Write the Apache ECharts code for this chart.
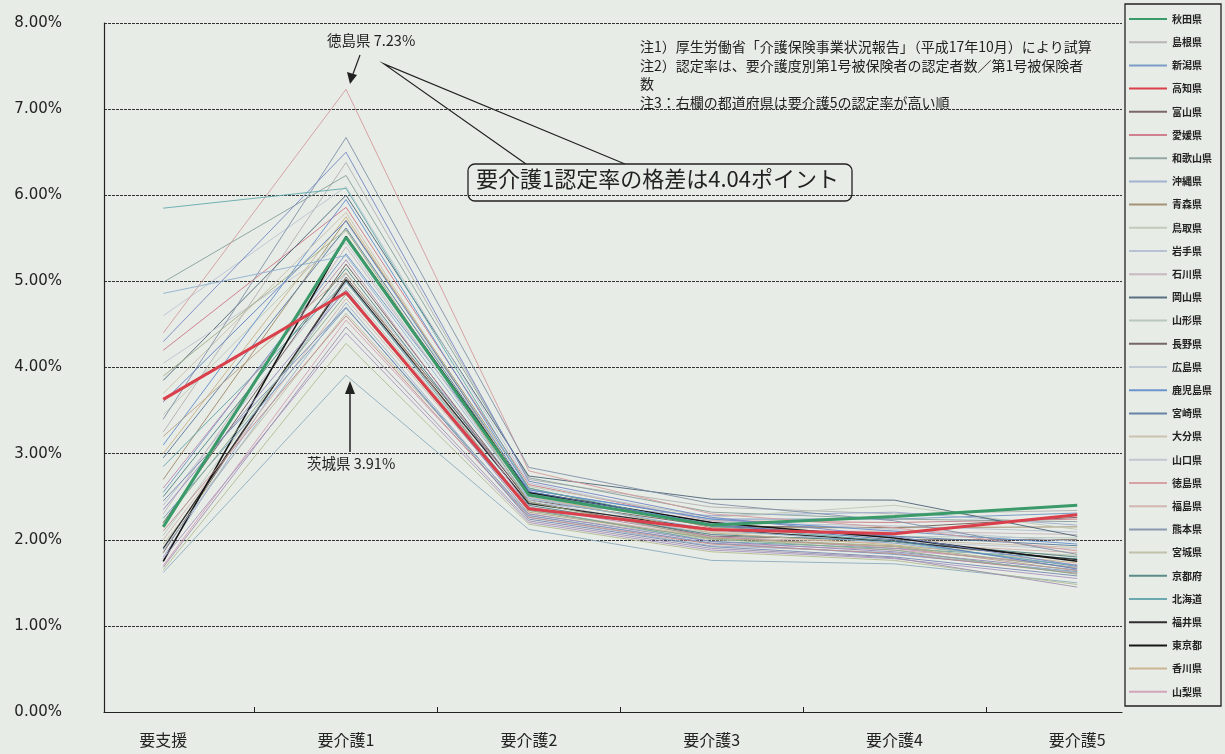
<!DOCTYPE html>
<html>
<head>
<meta charset="utf-8">
<script src="https://cdn.jsdelivr.net/npm/echarts@6/dist/echarts.min.js"></script>
<style>
  html, body { margin: 0; padding: 0; background: #e8ece6; }
  #main { width: 1225px; height: 754px; }
</style>
</head>
<body>
<div id="main"></div>
<script>
// categories (x axis)
const categories = ['要支援', '要介護1', '要介護2', '要介護3', '要介護4', '要介護5'];

// y axis ticks (percent)
const yTicks = [0, 1, 2, 3, 4, 5, 6, 7, 8];

// prefectures, sorted by 要介護5 rate; first 30 are shown in the legend
const prefectures = [
  '秋田県', '島根県', '新潟県', '高知県', '富山県', '愛媛県', '和歌山県', '沖縄県', '青森県', '鳥取県',
  '岩手県', '石川県', '岡山県', '山形県', '長野県', '広島県', '鹿児島県', '宮崎県', '大分県', '山口県',
  '徳島県', '福島県', '熊本県', '宮城県', '京都府', '北海道', '福井県', '東京都', '香川県', '山梨県',
  '佐賀県', '長崎県', '大阪府', '三重県', '兵庫県', '福岡県', '岐阜県', '奈良県', '愛知県', '滋賀県',
  '静岡県', '群馬県', '神奈川県', '栃木県', '茨城県', '千葉県', '埼玉県'
];
const legendCount = 30;

// 認定率 (%) per level, one value per prefecture in the order above
const shien = [
  2.15, 3.25, 2.55, 3.63, 1.85, 4.20, 4.99, 1.80, 2.70, 3.45,
  2.40, 2.30, 3.85, 2.05, 2.20, 4.60, 3.10, 2.95, 3.70, 4.05,
  4.40, 2.00, 3.40, 1.95, 2.50, 2.85, 1.90, 1.75, 3.00, 1.70,
  4.86, 4.30, 5.85, 2.60, 3.90, 3.60, 2.35, 3.20, 2.25, 1.88,
  2.10, 2.20, 2.45, 1.78, 1.62, 1.65, 1.68
];
const kaigo1 = [
  5.51, 6.38, 5.32, 4.87, 5.05, 5.86, 6.23, 4.99, 5.71, 5.59,
  5.09, 5.40, 6.00, 4.93, 5.20, 6.10, 5.95, 5.62, 5.80, 5.45,
  7.23, 4.80, 6.67, 4.63, 5.15, 5.00, 5.02, 5.52, 5.75, 4.55,
  5.30, 6.50, 6.08, 5.25, 5.60, 5.70, 4.90, 5.10, 4.69, 4.75,
  4.60, 4.85, 4.70, 4.40, 3.91, 4.28, 4.47
];
const kaigo2 = [
  2.52, 2.70, 2.58, 2.36, 2.46, 2.64, 2.72, 2.42, 2.60, 2.62,
  2.48, 2.50, 2.74, 2.38, 2.44, 2.66, 2.58, 2.54, 2.50, 2.46,
  2.80, 2.34, 2.84, 2.30, 2.40, 2.36, 2.42, 2.55, 2.52, 2.28,
  2.48, 2.68, 2.60, 2.38, 2.44, 2.56, 2.30, 2.32, 2.28, 2.26,
  2.26, 2.34, 2.24, 2.20, 2.12, 2.18, 2.22
];
const kaigo3 = [
  2.17, 2.38, 2.24, 2.12, 2.16, 2.22, 2.32, 2.28, 2.14, 2.26,
  2.20, 2.10, 2.47, 2.08, 2.04, 2.22, 2.24, 2.16, 2.10, 2.06,
  2.30, 2.03, 2.42, 2.00, 2.06, 1.98, 2.12, 2.20, 2.08, 1.96,
  2.12, 2.26, 2.16, 2.04, 2.02, 2.18, 1.98, 2.02, 1.96, 1.93,
  1.95, 2.01, 1.92, 1.88, 1.76, 1.86, 1.90
];
const kaigo4 = [
  2.27, 2.30, 2.24, 2.07, 2.14, 2.20, 2.24, 2.32, 2.14, 2.40,
  2.16, 2.10, 2.46, 2.04, 2.00, 2.12, 2.10, 2.04, 2.00, 1.98,
  2.14, 1.96, 2.22, 1.92, 1.98, 1.90, 1.98, 2.02, 1.94, 1.88,
  1.96, 2.04, 1.98, 1.90, 1.93, 2.00, 1.86, 1.92, 1.83, 1.85,
  1.84, 1.88, 1.80, 1.78, 1.72, 1.76, 1.79
];
const kaigo5 = [
  2.40, 2.34, 2.31, 2.29, 2.26, 2.24, 2.21, 2.17, 2.15, 2.12,
  2.09, 2.06, 2.04, 2.02, 2.00, 1.98, 1.95, 1.93, 1.91, 1.89,
  1.87, 1.85, 1.83, 1.82, 1.80, 1.78, 1.77, 1.75, 1.73, 1.71,
  1.70, 1.70, 1.69, 1.68, 1.67, 1.66, 1.65, 1.64, 1.63, 1.62,
  1.61, 1.60, 1.58, 1.55, 1.50, 1.48, 1.45
];
const levels = [shien, kaigo1, kaigo2, kaigo3, kaigo4, kaigo5];

// line colours, same order as prefectures
const lineColors = [
  '#3a9a6a', '#b0b0b0', '#6f92c4', '#d9404c', '#6e5a5a', '#cc7586', '#86a09c', '#9aaace', '#9c8a68', '#bcc8b4',
  '#b4bcd2', '#c4b2be', '#4a6276', '#b2c4bc', '#6a5858', '#bac4d0', '#5f8ccc', '#56789f', '#c8bea8', '#bcc2ce',
  '#d49a9c', '#ceb0ac', '#7f90a8', '#bcbca4', '#4a8282', '#5ea2a8', '#2e2e2e', '#161616', '#c6b088', '#d29cb6',
  '#8eb0d0', '#7486c4', '#62aaac', '#b88cb0', '#a0ae88', '#5a7cbc', '#9086bc', '#b89e84', '#6e98be', '#9cb0c8',
  '#c08a8c', '#88a888', '#7488b0', '#a894c0', '#8cacbe', '#b0bc90', '#a090b0'
];
const lineWidth = { '秋田県': 3, '高知県': 3, '東京都': 1.6, '福井県': 1.3 };

const chart = echarts.init(document.getElementById('main'));

const series = prefectures.map((name, i) => ({
  name: name,
  type: 'line',
  symbol: 'none',
  silent: true,
  z: lineWidth[name] >= 3 ? 4 : 2,
  data: levels.map((arr, j) => [j, arr[i]]),
  itemStyle: { color: lineColors[i] },
  lineStyle: { color: lineColors[i], width: lineWidth[name] || 1, opacity: lineWidth[name] ? 1 : 0.9 }
}));

const jp = 'Noto Sans CJK JP';
const note = (txt, y) => ({ type: 'text', left: 640, top: y, style: { text: txt, font: '14px "Noto Sans CJK JP"', fill: '#222' } });

const option = {
  backgroundColor: '#e8ece6',
  animation: false,
  grid: { left: 104, top: 23, right: 103, bottom: 42 },
  legend: {
    orient: 'vertical',
    left: 1128,
    top: 14,
    padding: 0,
    data: prefectures.slice(0, legendCount),
    itemWidth: 38,
    itemHeight: 10,
    itemGap: 13.2,
    selectedMode: false,
    itemStyle: { opacity: 0 },
    textStyle: { fontFamily: jp, fontSize: 10, fontWeight: 'bold', color: '#222' }
  },
  xAxis: {
    type: 'value',
    min: -0.324,
    max: 5.245,
    splitLine: { show: false },
    axisLine: { onZero: false, lineStyle: { color: '#222', width: 1.2 } },
    axisTick: { show: true, inside: true, length: 5, customValues: [0.5, 1.5, 2.5, 3.5, 4.5], lineStyle: { color: '#222' } },
    axisLabel: {
      customValues: [0, 1, 2, 3, 4, 5],
      formatter: (v) => categories[Math.round(v)],
      margin: 20,
      fontFamily: jp,
      fontSize: 16,
      color: '#222'
    }
  },
  yAxis: {
    type: 'value',
    min: yTicks[0],
    max: yTicks[yTicks.length - 1],
    interval: 1,
    axisLine: { show: true, onZero: false, lineStyle: { color: '#222', width: 1.2 } },
    axisTick: { show: false },
    axisLabel: {
      formatter: (v) => v.toFixed(2) + '%',
      margin: 42,
      fontFamily: 'DejaVu Sans',
      fontSize: 15,
      color: '#222'
    },
    splitLine: { lineStyle: { color: '#333', width: 1, type: [3, 1] } }
  },
  graphic: [
    // legend frame
    { type: 'rect', z: 0, shape: { x: 1125, y: 4, width: 96, height: 702 },
      style: { fill: 'none', stroke: '#222', lineWidth: 1.3 } },
    // notes
    note('注1）厚生労働省「介護保険事業状況報告」（平成17年10月）により試算', 40),
    note('注2）認定率は、要介護度別第1号被保険者の認定者数／第1号被保険者', 59),
    note('数', 77),
    note('注3：右欄の都道府県は要介護5の認定率が高い順', 96),
    // 徳島県 label + arrow
    { type: 'text', left: 327, top: 33, style: { text: '徳島県 7.23%', font: '14.5px "Noto Sans CJK JP"', fill: '#222' } },
    { type: 'line', shape: { x1: 360, y1: 55, x2: 353, y2: 74 }, style: { stroke: '#222', lineWidth: 1.2 } },
    { type: 'polygon', shape: { points: [[347, 72], [357, 75], [350, 84]] }, style: { fill: '#222' } },
    // callout
    { type: 'polyline', shape: { points: [[526, 164], [384, 64], [625, 164]] }, style: { stroke: '#222', lineWidth: 1.2, fill: 'none' } },
    { type: 'rect', shape: { x: 468, y: 164, width: 384, height: 37, r: 7 },
      style: { fill: '#e8ece6', stroke: '#222', lineWidth: 1.3 } },
    { type: 'text', left: 476, top: 168, style: { text: '要介護1認定率の格差は4.04ポイント', font: '22px "Noto Sans CJK JP"', fill: '#222' } },
    // 茨城県 label + arrow
    { type: 'line', shape: { x1: 350, y1: 452, x2: 350, y2: 392 }, style: { stroke: '#222', lineWidth: 1.5 } },
    { type: 'polygon', shape: { points: [[345, 394], [355, 394], [350, 381]] }, style: { fill: '#222' } },
    { type: 'text', left: 307, top: 456, style: { text: '茨城県 3.91%', font: '14.5px "Noto Sans CJK JP"', fill: '#222' } }
  ],
  series: series
};

chart.setOption(option);
</script>
</body>
</html>
